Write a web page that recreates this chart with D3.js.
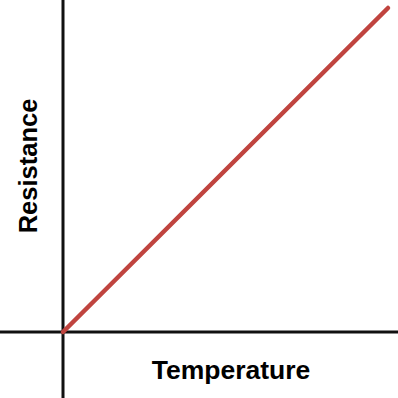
<!DOCTYPE html>
<html>
<head>
<meta charset="utf-8">
<script src="https://cdn.jsdelivr.net/npm/d3@7"></script>
<style>
  body { margin: 0; background: #fff; }
  text { font-family: "Liberation Sans", Arial, sans-serif; font-weight: bold; }
</style>
</head>
<body>
<script>
var temperature = [0, 10];
var resistance = [0, 10];
var xLabel = "Temperature";
var yLabel = "Resistance";

var w = 398;
var h = 398;

var svg = d3.select("body")
  .append("svg")
  .attr("width", w)
  .attr("height", h);

var x_scale = d3.scaleLinear()
  .domain([0, 10])
  .range([63, 388]);

var y_scale = d3.scaleLinear()
  .domain([0, 10])
  .range([332, 8]);

// axes as plain lines crossing at the origin
svg.append("line")
  .attr("x1", x_scale(0)).attr("x2", x_scale(0))
  .attr("y1", 0).attr("y2", h)
  .attr("stroke", "#111")
  .attr("stroke-width", 3);

svg.append("line")
  .attr("x1", 0).attr("x2", w)
  .attr("y1", y_scale(0)).attr("y2", y_scale(0))
  .attr("stroke", "#111")
  .attr("stroke-width", 3);

var points = temperature.map(function(t, i) {
  return [t, resistance[i]];
});

var line = d3.line()
  .x(function(d) { return x_scale(d[0]); })
  .y(function(d) { return y_scale(d[1]); });

svg.append("path")
  .datum(points)
  .attr("d", line)
  .attr("fill", "none")
  .attr("stroke", "#c0443f")
  .attr("stroke-width", 4.5)
  .attr("stroke-linecap", "round");

svg.append("text")
  .attr("x", 231)
  .attr("y", 379)
  .attr("text-anchor", "middle")
  .attr("font-size", 26.5)
  .text(xLabel);

svg.append("text")
  .attr("transform", "translate(37,166) rotate(-90)")
  .attr("text-anchor", "middle")
  .attr("font-size", 25.5)
  .text(yLabel);
</script>
</body>
</html>
